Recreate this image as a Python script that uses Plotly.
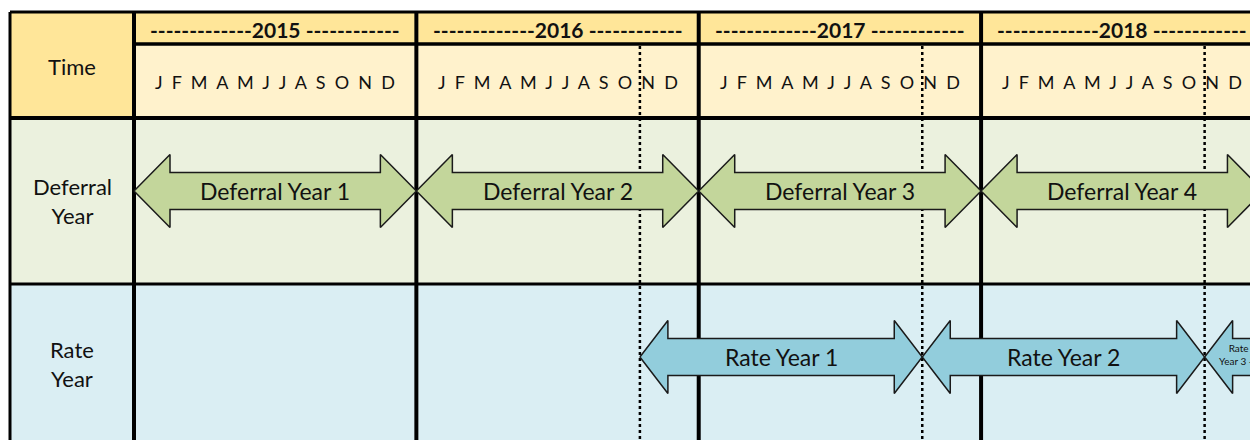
import plotly.graph_objects as go

# ---------------- data ----------------
years = [2015, 2016, 2017, 2018]
year_labels = ["-------------2015 ------------", "-------------2016 ------------",
               "-------------2017 ------------", "-------------2018 ------------"]
month_letters = ["J", "F", "M", "A", "M", "J", "J", "A", "S", "O", "N", "D"]
row_labels = ["Time", "Deferral<br>Year", "Rate<br>Year"]

deferral_labels = ["Deferral Year 1", "Deferral Year 2", "Deferral Year 3", "Deferral Year 4"]
deferral_start = [0, 12, 24, 36]      # months since Jan 2015
deferral_end = [12, 24, 36, 48]

rate_labels = ["Rate Year 1", "Rate Year 2", "Rate<br>Year 3 ->"]
rate_start = [21.5, 33.5, 45.5]       # months since Jan 2015
rate_end = [33.5, 45.5, 57.5]

# ---------------- layout constants ----------------
W, H = 1258, 440
OFF = 8                      # page body margin of the html page
FW, FH = W - OFF, H - OFF
PX_PER_M = 23.53
X0_PX = 134
XMIN = (OFF - X0_PX) / PX_PER_M
XMAX = (W - X0_PX) / PX_PER_M
LEFT = (10 - X0_PX) / PX_PER_M
RIGHT = XMAX + 2

TOP, YEAR_BOT, MONTH_BOT, DEF_BOT, BOT = 12, 44, 118, 284, 460
DEF_CY, RATE_CY = 191, 357
HEAD_H, SHAFT_H = 36.5, 18.5

FONT = "Lato, 'Open Sans', sans-serif"
C_YEAR = "#FFE699"
C_MONTH = "#FFF2CC"
C_DEF = "#EBF1DE"
C_RATE = "#DAEEF3"
C_DEF_ARROW = "#C3D69B"
C_RATE_ARROW = "#92CDDC"
TXT = "#111111"

fig = go.Figure()
shapes = []
annotations = []


def rect(x0, x1, y0, y1, color):
    shapes.append(dict(type="rect", xref="x", yref="y", x0=x0, x1=x1, y0=y0, y1=y1,
                       fillcolor=color, line=dict(width=0), layer="below"))


def line(x0, x1, y0, y1, width=4, dash="solid"):
    shapes.append(dict(type="line", xref="x", yref="y", x0=x0, x1=x1, y0=y0, y1=y1,
                       line=dict(color="black", width=width, dash=dash), layer="below"))


# backgrounds
rect(LEFT, 0, TOP, MONTH_BOT, C_YEAR)
rect(0, RIGHT, TOP, YEAR_BOT, C_YEAR)
rect(0, RIGHT, YEAR_BOT, MONTH_BOT, C_MONTH)
rect(LEFT, RIGHT, MONTH_BOT, DEF_BOT, C_DEF)
rect(LEFT, RIGHT, DEF_BOT, BOT, C_RATE)

# dotted lines at rate-year boundaries
for xs in rate_start:
    line(xs, xs, YEAR_BOT + 2, BOT, width=2.5, dash="dot")

# grid lines
line(LEFT, RIGHT, TOP, TOP, width=3)
line(0, RIGHT, YEAR_BOT, YEAR_BOT, width=3.5)
line(LEFT, RIGHT, MONTH_BOT, MONTH_BOT, width=4)
line(LEFT, RIGHT, DEF_BOT, DEF_BOT, width=3)
line(LEFT, LEFT, TOP, BOT, width=3)
for i in range(len(years) + 1):
    xm = 12 * i
    line(xm, xm, TOP, BOT, width=4)

# row labels
row_y = [66, 201, 364]
for lab, yy in zip(row_labels, row_y):
    annotations.append(dict(x=LEFT / 2, y=yy, xref="x", yref="y", text=lab, showarrow=False,
                            font=dict(family=FONT, size=22, color=TXT), align="center"))

# year headers and month letters
GAP = "\u00a0\u00a0"
for i, ylab in enumerate(year_labels):
    cx = 12 * i + 6
    annotations.append(dict(x=cx, y=29, xref="x", yref="y", text="<b>" + ylab + "</b>",
                            showarrow=False, font=dict(family=FONT, size=21, color=TXT)))
    annotations.append(dict(x=cx, y=82, xref="x", yref="y",
                            text=GAP.join(month_letters), showarrow=False,
                            font=dict(family=FONT, size=18, color=TXT)))


def arrow(x0, x1, cy, head, fill, name):
    xs = [x0, x0 + head, x0 + head, x1 - head, x1 - head, x1, x1 - head, x1 - head, x0 + head, x0 + head, x0]
    ys = [cy, cy - HEAD_H, cy - SHAFT_H, cy - SHAFT_H, cy - HEAD_H, cy, cy + HEAD_H, cy + SHAFT_H,
          cy + SHAFT_H, cy + HEAD_H, cy]
    fig.add_trace(go.Scatter(x=xs, y=ys, mode="lines", fill="toself", fillcolor=fill,
                             line=dict(color="#1a1a1a", width=1.5), hoverinfo="skip", name=name,
                             showlegend=False))


DEF_HEAD = 36 / PX_PER_M
RATE_HEAD = 28 / PX_PER_M
for lab, s, e in zip(deferral_labels, deferral_start, deferral_end):
    arrow(s, e, DEF_CY, DEF_HEAD, C_DEF_ARROW, lab)
    annotations.append(dict(x=(s + e) / 2, y=DEF_CY, xref="x", yref="y", text=lab, showarrow=False,
                            font=dict(family=FONT, size=23, color=TXT)))

for lab, s, e in zip(rate_labels, rate_start, rate_end):
    arrow(s, e, RATE_CY, RATE_HEAD, C_RATE_ARROW, lab)
    if "<br>" in lab:
        annotations.append(dict(x=s + 1.45, y=RATE_CY - 3, xref="x", yref="y", text=lab, showarrow=False,
                                font=dict(family=FONT, size=10, color=TXT)))
    else:
        annotations.append(dict(x=(s + e) / 2, y=RATE_CY, xref="x", yref="y", text=lab, showarrow=False,
                                font=dict(family=FONT, size=23, color=TXT)))

fig.update_layout(
    width=FW, height=FH, margin=dict(l=0, r=0, t=0, b=0),
    paper_bgcolor="white", plot_bgcolor="white",
    xaxis=dict(range=[XMIN, XMAX], visible=False, fixedrange=True),
    yaxis=dict(range=[H, OFF], visible=False, fixedrange=True),
    shapes=shapes, annotations=annotations, showlegend=False,
)
fig.write_html("out.html")
